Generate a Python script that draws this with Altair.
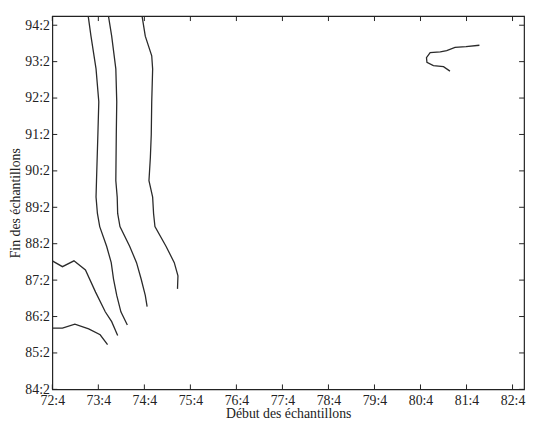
import altair as alt
import pandas as pd

# Tick positions (year + (quarter-1)/4) and their labels
x_ticks = [72.75, 73.75, 74.75, 75.75, 76.75, 77.75, 78.75, 79.75, 80.75, 81.75, 82.75]
x_labels = ["72:4", "73:4", "74:4", "75:4", "76:4", "77:4", "78:4", "79:4", "80:4", "81:4", "82:4"]
y_ticks = [84.25, 85.25, 86.25, 87.25, 88.25, 89.25, 90.25, 91.25, 92.25, 93.25, 94.25]
y_labels = ["84:2", "85:2", "86:2", "87:2", "88:2", "89:2", "90:2", "91:2", "92:2", "93:2", "94:2"]

# Contour lines (start date, end date)
line1_x = [73.53, 73.59, 73.70, 73.76, 73.74, 73.71, 73.70, 73.73, 73.78, 73.93, 74.03, 74.08, 74.15, 74.24, 74.38]
line1_y = [94.50, 93.95, 93.05, 92.15, 91.25, 89.98, 89.53, 89.08, 88.72, 88.18, 87.73, 87.28, 86.83, 86.38, 86.02]

line2_x = [73.97, 74.04, 74.13, 74.15, 74.14, 74.13, 74.16, 74.17, 74.22, 74.43, 74.58, 74.68, 74.77, 74.81]
line2_y = [94.50, 93.95, 93.05, 92.15, 91.25, 89.98, 89.53, 89.08, 88.72, 88.18, 87.73, 87.28, 86.83, 86.52]

line3_x = [74.70, 74.77, 74.91, 74.93, 74.91, 74.90, 74.88, 74.85, 74.93, 74.95, 74.98, 75.22, 75.40, 75.48, 75.47]
line3_y = [94.50, 93.95, 93.41, 93.05, 92.15, 91.25, 90.61, 89.98, 89.53, 89.08, 88.72, 88.18, 87.73, 87.37, 87.01]

line4_x = [72.75, 72.97, 73.22, 73.47, 73.69, 73.90, 74.04, 74.17]
line4_y = [87.78, 87.62, 87.78, 87.53, 86.92, 86.38, 86.11, 85.73]

line5_x = [72.75, 72.97, 73.24, 73.54, 73.79, 73.95]
line5_y = [85.93, 85.93, 86.04, 85.91, 85.75, 85.48]

line6_x = [82.03, 81.74, 81.50, 81.32, 81.18, 80.96, 80.88, 80.89, 81.03, 81.25, 81.39]
line6_y = [93.70, 93.66, 93.64, 93.55, 93.52, 93.50, 93.36, 93.23, 93.14, 93.11, 92.99]

rows = []
for name, xs, ys in [("l1", line1_x, line1_y), ("l2", line2_x, line2_y), ("l3", line3_x, line3_y),
                     ("l4", line4_x, line4_y), ("l5", line5_x, line5_y), ("l6", line6_x, line6_y)]:
    for i, (a, b) in enumerate(zip(xs, ys)):
        rows.append({"line": name, "i": i, "x": a, "y": b})
df = pd.DataFrame(rows)

FONT = "Liberation Serif"
W, H = 479, 379
TICK = 5

xscale = alt.Scale(domain=[72.75, 83.0], nice=False, zero=False)
yscale = alt.Scale(domain=[84.25, 94.5], nice=False, zero=False)

label_expr = "floor(datum.value) + ':' + round((datum.value - floor(datum.value)) * 4 + 1)"

common = dict(labelExpr=label_expr, ticks=False, domain=False, grid=False,
              labelOverlap=False, labelFlush=False, labelBound=False,
              labelFont=FONT, labelFontSize=14, titleFont=FONT, titleFontSize=14,
              titleFontWeight="normal", labelColor="#222", titleColor="#222")

xaxis = alt.Axis(values=x_ticks, title="Début des échantillons", labelPadding=4, titlePadding=0, **common)
yaxis = alt.Axis(values=y_ticks, title="Fin des échantillons", labelPadding=3, titlePadding=2, **common)

lines = alt.Chart(df).mark_line(color="#2a2a2a", strokeWidth=1.3).encode(
    x=alt.X("x:Q", scale=xscale, axis=xaxis),
    y=alt.Y("y:Q", scale=yscale, axis=yaxis),
    detail="line:N",
    order="i:Q",
)

xt = pd.DataFrame({"v": x_ticks})
yt = pd.DataFrame({"v": y_ticks})

rule_style = dict(color="#222", strokeWidth=1)
tb = alt.Chart(xt).mark_rule(**rule_style).encode(
    x=alt.X("v:Q", scale=xscale, axis=xaxis), y=alt.value(H), y2=alt.value(H - TICK))
tt = alt.Chart(xt).mark_rule(**rule_style).encode(
    x=alt.X("v:Q", scale=xscale, axis=xaxis), y=alt.value(0), y2=alt.value(TICK))
tl = alt.Chart(yt).mark_rule(**rule_style).encode(
    y=alt.Y("v:Q", scale=yscale, axis=yaxis), x=alt.value(0), x2=alt.value(TICK))
tr = alt.Chart(yt).mark_rule(**rule_style).encode(
    y=alt.Y("v:Q", scale=yscale, axis=yaxis), x=alt.value(W), x2=alt.value(W - TICK))

chart = alt.layer(lines, tb, tt, tl, tr).properties(
    width=W, height=H,
    background="white",
    autosize=alt.AutoSizeParams(type="none"),
    padding={"left": 45, "top": 5, "right": 3, "bottom": 37},
).configure_view(stroke="#222", strokeWidth=1.2).configure_axis(labelOverlap=False)

chart.save("out.html", embed_options={"renderer": "svg", "actions": False})
